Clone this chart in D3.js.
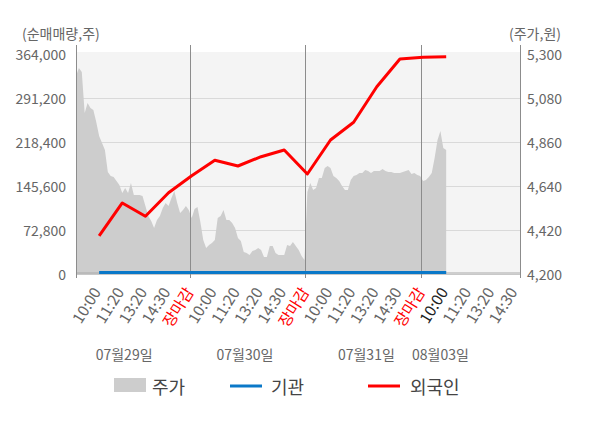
<!DOCTYPE html>
<html>
<head>
<meta charset="utf-8">
<script src="https://cdn.jsdelivr.net/npm/d3@7"></script>
<style>
  html, body { margin: 0; padding: 0; background: #fff; }
  svg { display: block; }
  text { font-family: "Noto Sans CJK KR", "Noto Sans", sans-serif; }
</style>
</head>
<body>
<svg id="chart" width="600" height="428"></svg>
<script>
// ---------------- data ----------------
const days = ["07월29일", "07월30일", "07월31일", "08월03일"];
const dayLabelSlots = [1.08, 6.3, 11.55, 14.75];
const separatorSlots = [4, 9, 14];
const timeLabels = ["10:00","11:20","13:20","14:30","장마감",
                    "10:00","11:20","13:20","14:30","장마감",
                    "10:00","11:20","13:20","14:30","장마감",
                    "10:00","11:20","13:20","14:30"];
const volumeTicks = [0, 72800, 145600, 218400, 291200, 364000];
const priceTicks = [4200, 4420, 4640, 4860, 5080, 5300];

// intraday price (8 samples per slot, starting at slot -1)
const price = [
  5190,5230,5210,5005,5055,5030,5020,4960,4890,4855,4820,4710,4690,4685,4665,4645,4605,4630,4605,4655,
  4595,4595,4595,4590,4540,4490,4465,4430,4470,4490,4530,4555,4540,4580,4615,4555,4505,4520,4540,4520,4480,
  4525,4535,4460,4370,4330,4345,4355,4370,4480,4490,4520,4470,4470,4455,4430,4380,4365,4310,4305,4295,
  4315,4320,4330,4320,4285,4285,4340,4340,4305,4295,4295,4295,4345,4340,4360,4340,4320,4290,4270,
  4610,4655,4620,4630,4680,4680,4730,4740,4730,4690,4680,4665,4640,4620,4620,4670,4690,4695,4705,4705,4720,
  4715,4705,4715,4715,4715,4725,4715,4710,4710,4705,4705,4705,4710,4715,4720,4700,4705,4695,4690,
  4665,4670,4685,4705,4780,4870,4915,4830,4820
];
const priceStep = 1 / 8;

// cumulative net buying (shares), one point per time slot
const foreign = [62900,117500,95500,134500,162600,188100,178700,194100,205200,165500,
                 221700,251000,309900,355700,358500,359500];
const institution = [2500,2500,2500,2500,2500,2500,2500,2500,2500,2500,
                     2500,2500,2500,2500,2500,2500];

// ---------------- layout ----------------
const svg = d3.select("#chart");
const L = 76, R = 520, T = 54, B = 274;

const x = d3.scaleLinear().domain([-1, 18.19]).range([L, R]);
const yV = d3.scaleLinear().domain([0, 364000]).range([B, T]);
const yP = d3.scaleLinear().domain([4200, 5300]).range([B, T]);

// plot background
svg.append("rect").attr("x", L).attr("y", T - 2).attr("width", R - L).attr("height", B - T + 2)
  .attr("fill", "#f4f4f4");

// horizontal grid
svg.append("g").selectAll("line").data(volumeTicks.slice(1, -1)).join("line")
  .attr("x1", L).attr("x2", R).attr("y1", d => yV(d) + 0.5).attr("y2", d => yV(d) + 0.5)
  .attr("stroke", "#d9d9d9").attr("stroke-width", 1);

// price area
const area = d3.area()
  .x((d, i) => x(-1 + i * priceStep))
  .y0(yP(4200))
  .y1(d => yP(d));
svg.append("path").datum(price).attr("d", area).attr("fill", "#cdcdcd");

// bottom baseline
svg.append("line").attr("x1", L).attr("x2", R).attr("y1", B - 1).attr("y2", B - 1)
  .attr("stroke", "#a8a8a8").attr("stroke-width", 1);
svg.append("line").attr("x1", L).attr("x2", R).attr("y1", B + 0.5).attr("y2", B + 0.5)
  .attr("stroke", "#c8c8c8").attr("stroke-width", 1);

// day separators + axes lines
svg.append("g").selectAll("line").data(separatorSlots).join("line")
  .attr("x1", d => Math.round(x(d)) - 1.5).attr("x2", d => Math.round(x(d)) - 1.5)
  .attr("y1", 45).attr("y2", 278)
  .attr("stroke", "#8c8c8c").attr("stroke-width", 1);
svg.append("line").attr("x1", L + 0.5).attr("x2", L + 0.5).attr("y1", 45).attr("y2", 278)
  .attr("stroke", "#8c8c8c");
svg.append("line").attr("x1", R + 0.5).attr("x2", R + 0.5).attr("y1", 45).attr("y2", 278)
  .attr("stroke", "#8c8c8c");

// lines
const line = d3.line().x((d, i) => x(i)).y(d => yV(d));
svg.append("path").datum(institution).attr("d", line)
  .attr("fill", "none").attr("stroke", "#0a78c8").attr("stroke-width", 3);
svg.append("path").datum(foreign).attr("d", line)
  .attr("fill", "none").attr("stroke", "#ff0000").attr("stroke-width", 3)
  .attr("stroke-linejoin", "round");

// left axis labels
svg.append("g").selectAll("text").data(volumeTicks).join("text")
  .attr("x", 66).attr("y", d => yV(d)).attr("dominant-baseline", "central")
  .attr("text-anchor", "end").attr("font-size", 14).attr("fill", "#666")
  .text(d => d3.format(",")(d));

// right axis labels
svg.append("g").selectAll("text").data(priceTicks).join("text")
  .attr("x", 527).attr("y", d => yP(d)).attr("dominant-baseline", "central")
  .attr("text-anchor", "start").attr("font-size", 14).attr("fill", "#666")
  .text(d => d3.format(",")(d));

// axis titles
svg.append("text").attr("x", 22).attr("y", 33).attr("dominant-baseline", "central")
  .attr("font-size", 14).attr("fill", "#666").text("(순매매량,주)");
svg.append("text").attr("x", 509).attr("y", 33).attr("dominant-baseline", "central")
  .attr("font-size", 14).attr("fill", "#666").text("(주가,원)");

// time labels
svg.append("g").selectAll("text").data(timeLabels).join("text")
  .attr("transform", (d, i) => `translate(${x(i) + 2.5},292) rotate(-58)`)
  .attr("text-anchor", "end").attr("font-size", 15.5)
  .attr("fill", (d, i) => d === "장마감" ? "#ff0000" : (i === 15 ? "#222" : "#666"))
  .text(d => d);

// day labels
svg.append("g").selectAll("text").data(days).join("text")
  .attr("x", (d, i) => x(dayLabelSlots[i])).attr("y", 354)
  .attr("dominant-baseline", "central").attr("text-anchor", "middle")
  .attr("font-size", 14).attr("fill", "#666").text(d => d);

// legend
const lg = svg.append("g");
lg.append("rect").attr("x", 114).attr("y", 378).attr("width", 32).attr("height", 14).attr("fill", "#cdcdcd");
lg.append("text").attr("x", 152).attr("y", 386).attr("dominant-baseline", "central")
  .attr("font-size", 18).attr("fill", "#444").text("주가");
lg.append("line").attr("x1", 230).attr("x2", 262).attr("y1", 386).attr("y2", 386)
  .attr("stroke", "#0a78c8").attr("stroke-width", 3);
lg.append("text").attr("x", 271).attr("y", 386).attr("dominant-baseline", "central")
  .attr("font-size", 18).attr("fill", "#444").text("기관");
lg.append("line").attr("x1", 368).attr("x2", 400).attr("y1", 386).attr("y2", 386)
  .attr("stroke", "#ff0000").attr("stroke-width", 3);
lg.append("text").attr("x", 410).attr("y", 386).attr("dominant-baseline", "central")
  .attr("font-size", 18).attr("fill", "#444").text("외국인");
</script>
</body>
</html>
